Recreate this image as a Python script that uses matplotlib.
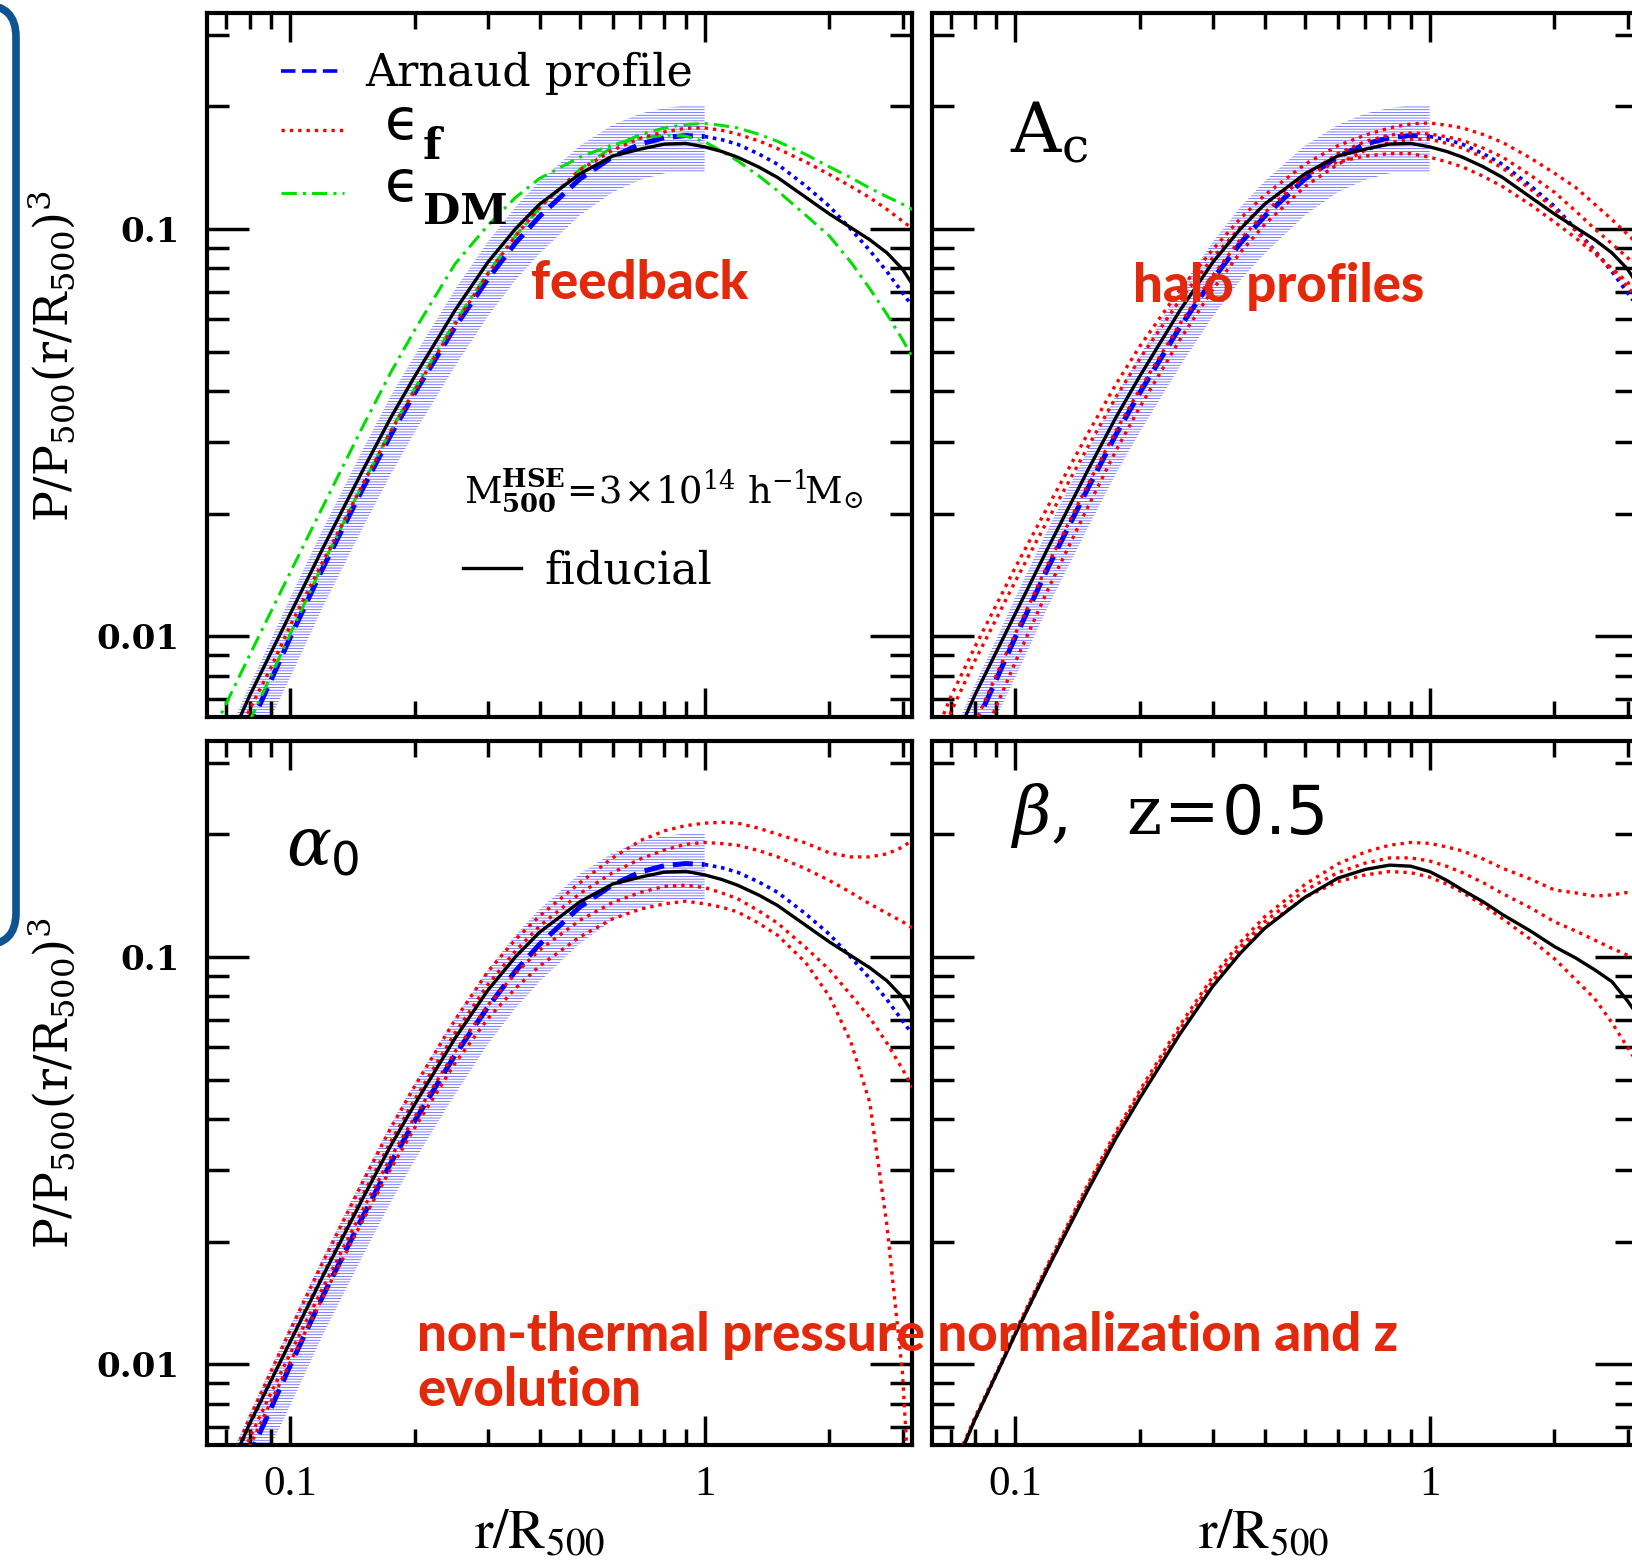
import numpy as np
import matplotlib.pyplot as plt
from matplotlib.patches import FancyBboxPatch
from matplotlib.ticker import LogLocator, NullFormatter

plt.rcParams['hatch.linewidth'] = 0.55
plt.rcParams['mathtext.fontset'] = 'dejavuserif'

# radius in units of R500
r = np.array([0.065, 0.07, 0.08, 0.09, 0.1, 0.12, 0.15, 0.175, 0.2, 0.25, 0.3, 0.35,
              0.4, 0.5, 0.6, 0.7, 0.8, 0.9, 1.0, 1.1, 1.2, 1.35, 1.5, 1.75, 2.0, 2.25,
              2.5, 2.75, 3.0, 3.2])

# fiducial model, z=0
fiducial = [0.0042, 0.00528, 0.00716, 0.00912, 0.01132, 0.01644, 0.0256, 0.0344, 0.0435,
            0.0631, 0.0828, 0.1001, 0.115, 0.1365, 0.151, 0.157, 0.1615, 0.1622, 0.159,
            0.1549, 0.150, 0.1419, 0.1337, 0.1197, 0.1088, 0.1008, 0.0941, 0.0874,
            0.0797, 0.0720]

# Arnaud profile and its scatter (scatter only out to R500)
arnaud = np.array([0.0037, 0.0044, 0.0060, 0.0078, 0.0099, 0.0147, 0.0231, 0.0312,
                   0.0396, 0.0574, 0.0753, 0.0924, 0.1074, 0.1326, 0.1503, 0.1616,
                   0.1675, 0.1695, 0.1686, 0.1656, 0.1614, 0.1528, 0.1440, 0.1277,
                   0.1136, 0.0999, 0.0886, 0.0786, 0.0697, 0.0637])
arnaud_hi = [0.0047, 0.0056, 0.0076, 0.0098, 0.0124, 0.0183, 0.0288, 0.0389, 0.049,
             0.071, 0.093, 0.1133, 0.131, 0.160, 0.180, 0.192, 0.198, 0.201, 0.201]
arnaud_lo = [0.0029, 0.0035, 0.0048, 0.0063, 0.0079, 0.0118, 0.0185, 0.0250, 0.0317,
             0.046, 0.061, 0.0749, 0.087, 0.108, 0.123, 0.132, 0.137, 0.138, 0.137]

# feedback parameters
eps_f = [0.0040, 0.0049, 0.00662, 0.00838, 0.01059, 0.01524, 0.02366, 0.0319, 0.0401,
         0.0583, 0.0775, 0.0962, 0.1129, 0.1396, 0.156, 0.167, 0.173, 0.1767, 0.177,
         0.1746, 0.171, 0.1645, 0.1574, 0.1462, 0.136, 0.1272, 0.1194, 0.1117, 0.1045,
         0.0995]
eps_dm = [
    [0.0058, 0.0068, 0.0090, 0.0115, 0.0143, 0.0208, 0.0328, 0.0444, 0.0565, 0.082,
     0.102, 0.1195, 0.133, 0.150, 0.161, 0.167, 0.170, 0.169, 0.1637, 0.1551, 0.147,
     0.1350, 0.124, 0.1082, 0.0960, 0.0830, 0.0714, 0.0618, 0.0535, 0.0475],
    [0.0038, 0.0045, 0.0062, 0.0080, 0.0101, 0.0150, 0.0237, 0.0320, 0.0406, 0.0591,
     0.0780, 0.0962, 0.1125, 0.1400, 0.1590, 0.1705, 0.1770, 0.1805, 0.1815, 0.1795,
     0.1770, 0.1708, 0.1640, 0.1525, 0.1420, 0.1337, 0.1260, 0.1200, 0.1150, 0.1110],
]

# halo concentration normalisation A_c
a_c = [
    [0.0059, 0.0071, 0.0094, 0.0119, 0.0147, 0.0208, 0.0315, 0.0415, 0.0515, 0.0710,
     0.0890, 0.1062, 0.1210, 0.1440, 0.1600, 0.1700, 0.1770, 0.1810, 0.1820, 0.1797,
     0.1770, 0.1703, 0.1630, 0.1493, 0.1370, 0.1264, 0.1150, 0.1055, 0.0970, 0.0910],
    [0.0054, 0.0065, 0.0087, 0.0110, 0.0136, 0.0193, 0.0292, 0.0386, 0.0480, 0.0670,
     0.0850, 0.1011, 0.1150, 0.1350, 0.1460, 0.1510, 0.1530, 0.1530, 0.1500, 0.1461,
     0.1420, 0.1345, 0.1270, 0.1147, 0.1040, 0.0950, 0.0870, 0.0800, 0.0740, 0.0690],
    [0.0038, 0.0045, 0.0061, 0.0080, 0.0101, 0.0150, 0.0236, 0.0319, 0.0404, 0.0585,
     0.0768, 0.0943, 0.1095, 0.1350, 0.1530, 0.1640, 0.1700, 0.1720, 0.1710, 0.1683,
     0.1650, 0.1577, 0.1500, 0.1355, 0.1230, 0.1106, 0.1000, 0.0920, 0.0850, 0.0800],
    [0.0031, 0.0037, 0.0051, 0.0067, 0.0086, 0.0130, 0.0208, 0.0285, 0.0365, 0.0535,
     0.0710, 0.0877, 0.1025, 0.1270, 0.1440, 0.1560, 0.1630, 0.1660, 0.1660, 0.1622,
     0.1580, 0.1495, 0.1410, 0.1252, 0.1120, 0.0989, 0.0880, 0.0795, 0.0720, 0.0670],
]

# non-thermal pressure normalisation alpha_0
alpha_0 = [
    [0.0044, 0.0054, 0.0074, 0.0096, 0.0121, 0.0178, 0.0281, 0.0380, 0.0482, 0.0700,
     0.0920, 0.1104, 0.1260, 0.1520, 0.1750, 0.1930, 0.2040, 0.2100, 0.2130, 0.2140,
     0.2130, 0.2070, 0.2000, 0.1905, 0.1800, 0.1760, 0.1760, 0.1790, 0.1860, 0.1950],
    [0.0042, 0.0052, 0.0071, 0.0091, 0.0114, 0.0166, 0.0261, 0.0352, 0.0447, 0.0650,
     0.0855, 0.1035, 0.1190, 0.1430, 0.1610, 0.1740, 0.1830, 0.1890, 0.1910, 0.1898,
     0.1880, 0.1824, 0.1760, 0.1647, 0.1540, 0.1440, 0.1350, 0.1280, 0.1220, 0.1170],
    [0.0040, 0.0049, 0.0066, 0.0085, 0.0106, 0.0154, 0.0240, 0.0322, 0.0405, 0.0585,
     0.0760, 0.0912, 0.1040, 0.1230, 0.1360, 0.1440, 0.1490, 0.1500, 0.1480, 0.1436,
     0.1390, 0.1298, 0.1210, 0.1056, 0.0930, 0.0807, 0.0710, 0.0615, 0.0530, 0.0470],
    [0.0039, 0.0047, 0.0063, 0.0081, 0.0101, 0.0146, 0.0226, 0.0302, 0.0381, 0.0548,
     0.0705, 0.0838, 0.0950, 0.1120, 0.1240, 0.1310, 0.1350, 0.1370, 0.1350, 0.1325,
     0.1290, 0.1210, 0.1130, 0.0970, 0.0800, 0.0620, 0.0440, 0.0220, 0.0095, 0.0030],
]

# fiducial model at z=0.5 and the beta (redshift evolution) variations
fiducial_z05 = [0.0044, 0.0053, 0.0073, 0.0094, 0.0118, 0.0172, 0.0268, 0.0358, 0.0450,
                0.0647, 0.0847, 0.1023, 0.1175, 0.1400, 0.1560, 0.1640, 0.1680, 0.1670,
                0.1620, 0.1541, 0.1460, 0.1363, 0.1270, 0.1158, 0.1060, 0.0994, 0.0930,
                0.0870, 0.0780, 0.0710]
beta = [
    [0.0045, 0.0054, 0.0074, 0.0095, 0.0120, 0.0176, 0.0277, 0.0372, 0.0470, 0.0680,
     0.0895, 0.1088, 0.1255, 0.1505, 0.1690, 0.1810, 0.1880, 0.1910, 0.1900, 0.1862,
     0.1820, 0.1737, 0.1650, 0.1553, 0.1460, 0.1436, 0.1410, 0.1420, 0.1440, 0.1460],
    [0.0044, 0.0054, 0.0073, 0.0094, 0.0119, 0.0174, 0.0273, 0.0366, 0.0462, 0.0665,
     0.0875, 0.1061, 0.1220, 0.1455, 0.1610, 0.1700, 0.1750, 0.1750, 0.1720, 0.1669,
     0.1610, 0.1519, 0.1430, 0.1320, 0.1220, 0.1158, 0.1100, 0.1050, 0.1010, 0.0980],
    [0.0044, 0.0053, 0.0073, 0.0094, 0.0118, 0.0172, 0.0270, 0.0362, 0.0457, 0.0657,
     0.0860, 0.1038, 0.1190, 0.1400, 0.1530, 0.1590, 0.1620, 0.1610, 0.1570, 0.1509,
     0.1440, 0.1337, 0.1240, 0.1105, 0.0990, 0.0879, 0.0790, 0.0690, 0.0600, 0.0540],
]

BLUE = '#0000ff'
RED = '#ff0000'
GREEN = '#00e000'
LABEL_RED = '#e2290c'
DASH = (0, (4, 1.8))
DOT_BLUE = (0, (1, 1.3))
DOT_RED = (0, (1, 1.5))
DASHDOT = (0, (5, 2, 1, 2))


def frame(ax, xlabels, ylabels):
    ax.set_xscale('log')
    ax.set_yscale('log')
    ax.set_xlim(10 ** -1.2, 10 ** 0.5)
    ax.set_ylim(10 ** -2.198, 10 ** -0.47)
    ax.set_xticks([0.1, 1])
    ax.set_yticks([0.01, 0.1])
    ax.xaxis.set_minor_locator(LogLocator(base=10, subs=np.arange(2, 10)))
    ax.yaxis.set_minor_locator(LogLocator(base=10, subs=np.arange(2, 10)))
    ax.xaxis.set_minor_formatter(NullFormatter())
    ax.yaxis.set_minor_formatter(NullFormatter())
    if xlabels:
        ax.set_xticklabels(['0.1', '1'], fontfamily='Liberation Serif', fontsize=31)
    else:
        ax.set_xticklabels([])
    if ylabels:
        ax.set_yticklabels(['0.01', '0.1'], fontfamily='DejaVu Serif',
                           fontweight='bold', fontsize=24.5)
    else:
        ax.set_yticklabels([])
    ax.tick_params(which='both', direction='in', top=True, right=True, width=2.5)
    ax.tick_params(axis='x', which='major', length=21, pad=15)
    ax.tick_params(axis='x', which='minor', length=11.5)
    ax.tick_params(axis='y', which='major', length=30, pad=20)
    ax.tick_params(axis='y', which='minor', length=16)
    for s in ax.spines.values():
        s.set_linewidth(3)


def draw_arnaud(ax):
    inner = r <= 1.0
    outer = r >= 1.0
    ax.fill_between(r[inner], arnaud_lo, arnaud_hi, facecolor='none',
                    edgecolor='#5c5cff', hatch='------', linewidth=0, zorder=1)
    ax.plot(r[inner], arnaud[inner], color=BLUE, lw=3.6, ls=DASH, zorder=2)
    ax.plot(r[outer], arnaud[outer], color=BLUE, lw=2.6, ls=DOT_BLUE, zorder=2)


fig = plt.figure(figsize=(16.33, 15.66), dpi=100)
W, H = 0.43172, 0.44955
ax_fb = fig.add_axes([0.12676, 0.54215, W, H])
ax_ac = fig.add_axes([0.57073, 0.54215, W, H])
ax_al = fig.add_axes([0.12676, 0.07727, W, H])
ax_be = fig.add_axes([0.57073, 0.07727, W, H])

frame(ax_fb, False, True)
frame(ax_ac, False, False)
frame(ax_al, True, True)
frame(ax_be, True, False)

# feedback panel
draw_arnaud(ax_fb)
for y in eps_dm:
    ax_fb.plot(r, y, color=GREEN, lw=2.2, ls=DASHDOT, zorder=3)
ax_fb.plot(r, eps_f, color=RED, lw=2.4, ls=DOT_RED, zorder=4)
ax_fb.plot(r, fiducial, color='black', lw=2.4, zorder=5)

# legend keys
ax_fb.plot([0.105, 0.194], [0.918, 0.918], transform=ax_fb.transAxes,
           color=BLUE, lw=2.6, ls=DASH)
ax_fb.plot([0.105, 0.194], [0.834, 0.834], transform=ax_fb.transAxes,
           color=RED, lw=2.4, ls=DOT_RED)
ax_fb.plot([0.105, 0.194], [0.744, 0.744], transform=ax_fb.transAxes,
           color=GREEN, lw=2.2, ls=DASHDOT)
ax_fb.plot([0.363, 0.445], [0.2117, 0.2117], transform=ax_fb.transAxes,
           color='black', lw=2.4)
ax_fb.text(0.224, 0.896, 'Arnaud profile', transform=ax_fb.transAxes,
           fontfamily='DejaVu Serif', fontsize=32, va='baseline')
for yb, ys, sub in ((0.821, 0.792, 'f'), (0.733, 0.700, 'DM')):
    ax_fb.text(0.2525, yb, '\u03f5', transform=ax_fb.transAxes,
               fontfamily='DejaVu Sans', fontsize=41, va='baseline')
    ax_fb.text(0.306, ys, sub, transform=ax_fb.transAxes,
               fontfamily='DejaVu Serif', fontweight='bold', fontsize=31, va='baseline')
ax_fb.text(0.364, 0.304,
           r'$\mathrm{M}^{\mathbf{HSE}}_{\mathbf{500}}\!=\!3\!\times\!10^{14}\ '
           r'\mathrm{h}^{-1}\!\mathrm{M}_{\odot}$',
           transform=ax_fb.transAxes, fontsize=26.5, va='baseline')
ax_fb.text(0.478, 0.190, 'fiducial', transform=ax_fb.transAxes,
           fontfamily='DejaVu Serif', fontsize=32, va='baseline')

# halo profile panel
draw_arnaud(ax_ac)
for y in a_c:
    ax_ac.plot(r, y, color=RED, lw=2.4, ls=DOT_RED, zorder=4)
ax_ac.plot(r, fiducial, color='black', lw=2.4, zorder=5)
ax_ac.text(0.111, 0.801, r'$\mathrm{A}_{\mathrm{c}}$', transform=ax_ac.transAxes,
           fontsize=50, va='baseline')

# non-thermal pressure panel
draw_arnaud(ax_al)
for y in alpha_0:
    ax_al.plot(r, y, color=RED, lw=2.4, ls=DOT_RED, zorder=4)
ax_al.plot(r, fiducial, color='black', lw=2.4, zorder=5)
ax_al.text(0.112, 0.824, r'$\alpha_{\mathsf{0}}$', transform=ax_al.transAxes,
           fontsize=48, va='baseline')

# redshift evolution panel
for y in beta:
    ax_be.plot(r, y, color=RED, lw=2.4, ls=DOT_RED, zorder=4)
ax_be.plot(r, fiducial_z05, color='black', lw=2.4, zorder=5)
ax_be.text(0.111, 0.868, r'$\beta,\ \ \mathrm{z}\!=\!\mathsf{0.5}$',
           transform=ax_be.transAxes, fontsize=48, va='baseline')

# axis titles
for yc in (0.7727, 0.3084):
    fig.text(0.0318, yc, r'$\mathrm{P/P_{500}(r/R_{500})^3}$', rotation=90,
             ha='center', va='center', fontsize=33)
for xl in (0.290, 0.7336):
    fig.text(xl, 0.0115, r'$\mathrm{r/R_{500}}$', fontsize=40, math_fontfamily='stix',
             ha='left', va='baseline')

# red annotations
red_kw = dict(color=LABEL_RED, fontfamily='Lato', fontweight='black', fontsize=38,
              va='baseline', zorder=10)
fig.text(0.3252, 0.8091, 'feedback', **red_kw)
fig.text(0.6938, 0.8072, 'halo profiles', **red_kw)
fig.text(0.2554, 0.1373, 'non-thermal pressure normalization and z', **red_kw)
fig.text(0.2554, 0.1022, 'evolution', **red_kw)

# bracket at the left edge
bracket = FancyBboxPatch((-1.0, 6.21), 1.16, 9.40,
                         boxstyle='round,pad=0,rounding_size=0.32',
                         transform=fig.dpi_scale_trans, fill=False,
                         edgecolor='#0e5493', linewidth=5.5, clip_on=False)
fig.add_artist(bracket)

fig.savefig('out.png', dpi=100)
